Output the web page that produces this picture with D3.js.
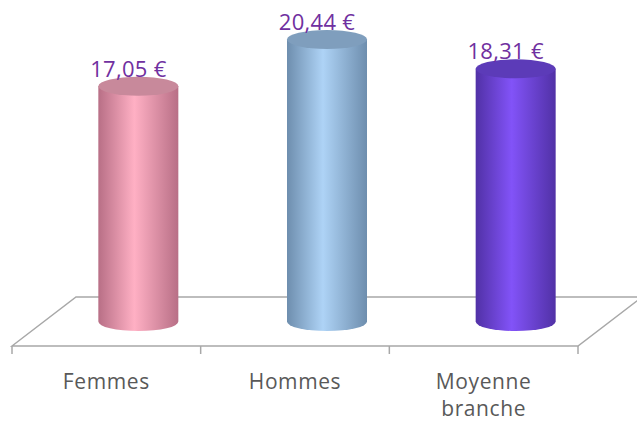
<!DOCTYPE html>
<html>
<head>
<meta charset="utf-8">
<script src="https://cdn.jsdelivr.net/npm/d3@7"></script>
<style>
  html, body { margin: 0; padding: 0; background: #fff; }
  svg { display: block; }
</style>
</head>
<body>
<div id="chart"></div>
<script>
(function () {
	'use strict';

	// chart data
	var categories = ["Femmes", "Hommes", "Moyenne branche"];
	var values = [17.05, 20.44, 18.31];
	var valueLabels = ["17,05 €", "20,44 €", "18,31 €"];

	// colours per cylinder: edge, centre, top
	var palette = [
		{ edge: "#b86f86", mid: "#ffb0c4", top: "#c8899b" },
		{ edge: "#6e8eae", mid: "#aed3f6", top: "#7f9ebd" },
		{ edge: "#5131a6", mid: "#8253f8", top: "#5c3bb8" }
	];

	var width = 637, height = 422;
	var floorLeft = 12, floorRight = 578, floorFront = 346;
	var depthX = 64, depthY = -49;   // 3d floor offset
	var rx = 40, ry = 9.5;

	var svg = d3.select("#chart").append("svg")
		.attr("width", width)
		.attr("height", height);

	var defs = svg.append("defs");

	var x = d3.scaleBand()
		.domain(categories)
		.range([floorLeft, floorRight]);

	var baseY = floorFront + depthY / 2;
	var y = d3.scaleLinear()
		.domain([0, 22])
		.range([baseY, baseY - 22 * 13.8]);

	// floor
	var floor = svg.append("g")
		.attr("fill", "none")
		.attr("stroke", "#a8a8a8")
		.attr("stroke-width", 1.5);

	floor.append("path")
		.attr("d", "M" + floorLeft + "," + floorFront +
			"L" + (floorLeft + depthX) + "," + (floorFront + depthY) +
			"L" + (floorRight + depthX) + "," + (floorFront + depthY) +
			"L" + floorRight + "," + floorFront + "Z")
		.attr("fill", "#fff");

	// x axis ticks
	var ticks = [floorLeft].concat(categories.map(function (c) { return x(c) + x.bandwidth(); }));
	floor.selectAll("line.tick").data(ticks).enter()
		.append("line")
		.attr("class", "tick")
		.attr("x1", function (d) { return d; })
		.attr("x2", function (d) { return d; })
		.attr("y1", floorFront)
		.attr("y2", floorFront + 8);

	// gradients
	palette.forEach(function (p, i) {
		var g = defs.append("linearGradient")
			.attr("id", "grad" + i)
			.attr("x1", "0%").attr("x2", "100%")
			.attr("y1", "0%").attr("y2", "0%");
		g.append("stop").attr("offset", "0%").attr("stop-color", p.edge);
		g.append("stop").attr("offset", "45%").attr("stop-color", p.mid);
		g.append("stop").attr("offset", "100%").attr("stop-color", p.edge);
	});

	var cx = function (d, i) { return x(categories[i]) + x.bandwidth() / 2 + depthX / 2; };

	var bars = svg.selectAll("g.bar").data(values).enter()
		.append("g")
		.attr("class", "bar");

	bars.append("path")
		.attr("fill", function (d, i) { return "url(#grad" + i + ")"; })
		.attr("d", function (d, i) {
			var c = cx(d, i), t = y(d);
			return "M" + (c - rx) + "," + t +
				"L" + (c - rx) + "," + baseY +
				"A" + rx + "," + ry + " 0 0 0 " + (c + rx) + "," + baseY +
				"L" + (c + rx) + "," + t + "Z";
		});

	bars.append("ellipse")
		.attr("cx", cx)
		.attr("cy", function (d) { return y(d); })
		.attr("rx", rx)
		.attr("ry", ry)
		.attr("fill", function (d, i) { return palette[i].top; });

	// value labels
	bars.append("text")
		.attr("x", function (d, i) { return cx(d, i) - 10; })
		.attr("y", function (d) { return y(d) - ry; })
		.attr("text-anchor", "middle")
		.attr("fill", "#7030a0")
		.style("font-family", "'Open Sans', sans-serif")
		.style("font-size", "22px")
		.style("letter-spacing", "0.3px")
		.text(function (d, i) { return valueLabels[i]; });

	// category labels
	var catText = svg.selectAll("text.cat").data(categories).enter()
		.append("text")
		.attr("class", "cat")
		.attr("x", function (d) { return x(d) + x.bandwidth() / 2; })
		.attr("y", 389)
		.attr("text-anchor", "middle")
		.attr("fill", "#595959")
		.style("font-family", "'Open Sans', sans-serif")
		.style("font-size", "21px")
		.style("letter-spacing", "0.6px");

	catText.each(function (d) {
		var words = d.split(" ");
		var t = d3.select(this);
		words.forEach(function (w, k) {
			t.append("tspan")
				.attr("x", t.attr("x"))
				.attr("dy", k === 0 ? 0 : 27)
				.text(w);
		});
	});
}());
</script>
</body>
</html>
